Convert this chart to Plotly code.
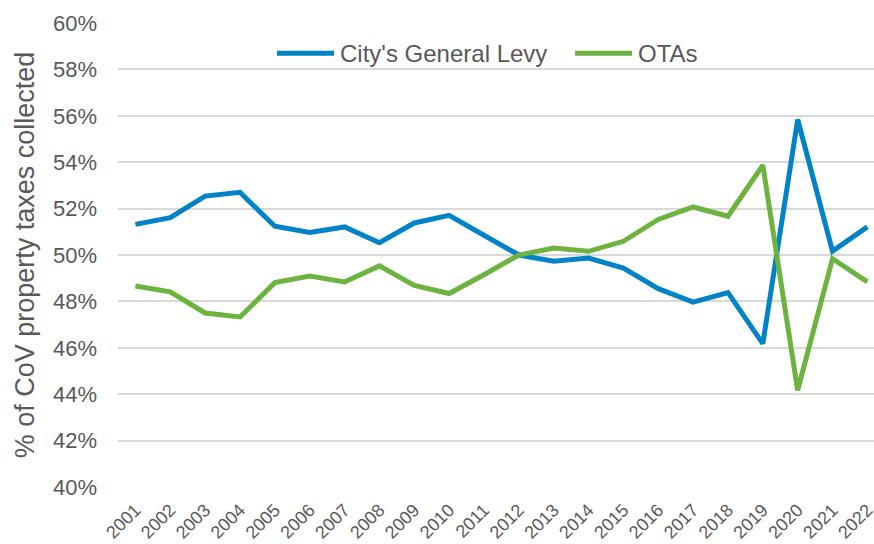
import plotly.graph_objects as go

years = [str(y) for y in range(2001, 2023)]
city_levy = [51.32, 51.61, 52.54, 52.70, 51.24, 50.97, 51.21, 50.53, 51.38, 51.71,
             50.85, 50.0, 49.73, 49.87, 49.44, 48.55, 47.97, 48.38, 46.18, 55.84,
             50.17, 51.21]
otas = [48.66, 48.41, 47.50, 47.33, 48.81, 49.09, 48.84, 49.53, 48.69, 48.34,
        49.15, 50.0, 50.30, 50.16, 50.59, 51.53, 52.07, 51.67, 53.87, 44.17,
        49.84, 48.84]
y_ticks = [40, 42, 44, 46, 48, 50, 52, 54, 56, 58, 60]
y_tick_labels = [f"{v}%" for v in y_ticks]

BLUE = "#0283C8"
GREEN = "#6DB33F"
GREY = "#595959"

fig = go.Figure()
fig.add_trace(go.Scatter(x=years, y=city_levy, mode="lines", name="City's General Levy",
                         line=dict(color=BLUE, width=5), showlegend=False))
fig.add_trace(go.Scatter(x=years, y=otas, mode="lines", name="OTAs",
                         line=dict(color=GREEN, width=5), showlegend=False))

# Legend drawn as line samples + text (Excel-style long samples)
LEG_Y = 0.9347
legend_items = [("City's General Levy", BLUE, 0.2103, 0.2857, 0.291),
                ("OTAs", GREEN, 0.6045, 0.680, 0.685)]
for label, col, x0, x1, xt in legend_items:
    fig.add_shape(type="line", xref="paper", yref="paper", x0=x0, x1=x1, y0=LEG_Y, y1=LEG_Y,
                  line=dict(color=col, width=5))
    fig.add_annotation(text=label, xref="paper", yref="paper", x=xt, y=LEG_Y,
                       xanchor="left", yanchor="middle", showarrow=False,
                       font=dict(size=24, color=GREY))

fig.update_layout(
    width=874, height=544,
    margin=dict(l=118, r=0, t=23, b=57),
    plot_bgcolor="white", paper_bgcolor="white",
    font=dict(family="Liberation Sans, Arial, sans-serif", color=GREY),
    xaxis=dict(type="category", range=[-0.5, 21.19], showgrid=False, showline=False,
               zeroline=False, tickangle=-45, tickfont=dict(size=18, color=GREY),
               ticks="", automargin=False, ticklabelstandoff=8),
    yaxis=dict(range=[40, 60], tickvals=y_ticks, ticktext=y_tick_labels,
               showgrid=True, gridcolor="#D9D9D9", gridwidth=1.5, zeroline=False,
               showline=False, tickfont=dict(size=22, color=GREY), automargin=False,
               ticklabelstandoff=20,
               title=dict(text="% of CoV property taxes collected",
                          font=dict(size=27, color=GREY), standoff=10)),
)

fig.write_html("out.html", config={"displayModeBar": False},
               post_script="document.body.style.margin='0';document.body.style.overflow='hidden';")
